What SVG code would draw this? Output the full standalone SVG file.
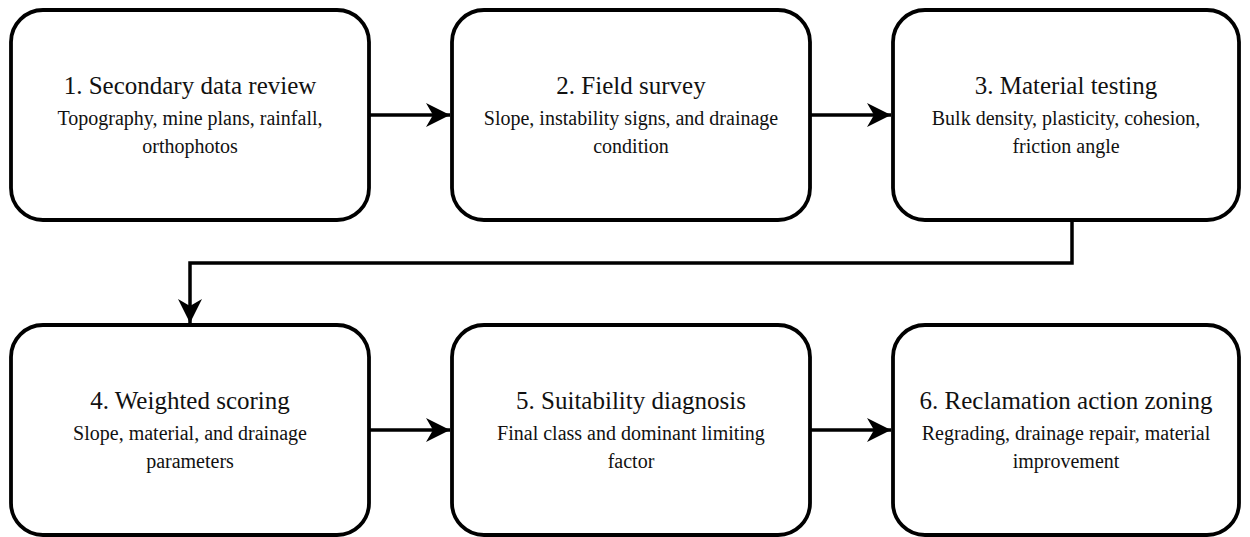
<svg xmlns="http://www.w3.org/2000/svg" width="1250" height="537" viewBox="0 0 1250 537">
<style>
.box{fill:#fff;stroke:#000;stroke-width:3.8}
.c{fill:none;stroke:#000;stroke-width:3.5}
</style>
<defs>
<marker id="ah" markerUnits="userSpaceOnUse" markerWidth="26" markerHeight="26" viewBox="0 0 26 26" refX="24" refY="13" orient="auto">
<path d="M0,1 L24,13 L0,25 L7,13 Z" fill="#000"/>
</marker>
</defs>
<rect width="1250" height="537" fill="#fff"/>
<g id="connectors">
<path class="c" d="M369,115 H450" marker-end="url(#ah)"/>
<path class="c" d="M810,115 H891" marker-end="url(#ah)"/>
<path class="c" d="M1072,220 V263 H190 V323" marker-end="url(#ah)"/>
<path class="c" d="M369,430 H450" marker-end="url(#ah)"/>
<path class="c" d="M810,430 H891" marker-end="url(#ah)"/>
</g>
<g id="n1"><rect class="box" x="11" y="10" width="358" height="210" rx="32"/>
<text font-family="Liberation Serif" fill="#111" text-anchor="middle" x="190" y="94" font-size="25">1. Secondary data review</text>
<text font-family="Liberation Serif" fill="#111" text-anchor="middle" x="190" y="125" font-size="20">Topography, mine plans, rainfall,</text>
<text font-family="Liberation Serif" fill="#111" text-anchor="middle" x="190" y="153" font-size="20">orthophotos</text></g>
<g id="n2"><rect class="box" x="452" y="10" width="358" height="210" rx="32"/>
<text font-family="Liberation Serif" fill="#111" text-anchor="middle" x="631" y="94" font-size="25">2. Field survey</text>
<text font-family="Liberation Serif" fill="#111" text-anchor="middle" x="631" y="125" font-size="20">Slope, instability signs, and drainage</text>
<text font-family="Liberation Serif" fill="#111" text-anchor="middle" x="631" y="153" font-size="20">condition</text></g>
<g id="n3"><rect class="box" x="893" y="10" width="346" height="210" rx="32"/>
<text font-family="Liberation Serif" fill="#111" text-anchor="middle" x="1066" y="94" font-size="25">3. Material testing</text>
<text font-family="Liberation Serif" fill="#111" text-anchor="middle" x="1066" y="125" font-size="20">Bulk density, plasticity, cohesion,</text>
<text font-family="Liberation Serif" fill="#111" text-anchor="middle" x="1066" y="153" font-size="20">friction angle</text></g>
<g id="n4"><rect class="box" x="11" y="325" width="358" height="210" rx="32"/>
<text font-family="Liberation Serif" fill="#111" text-anchor="middle" x="190" y="409" font-size="25">4. Weighted scoring</text>
<text font-family="Liberation Serif" fill="#111" text-anchor="middle" x="190" y="440" font-size="20">Slope, material, and drainage</text>
<text font-family="Liberation Serif" fill="#111" text-anchor="middle" x="190" y="468" font-size="20">parameters</text></g>
<g id="n5"><rect class="box" x="452" y="325" width="358" height="210" rx="32"/>
<text font-family="Liberation Serif" fill="#111" text-anchor="middle" x="631" y="409" font-size="25">5. Suitability diagnosis</text>
<text font-family="Liberation Serif" fill="#111" text-anchor="middle" x="631" y="440" font-size="20">Final class and dominant limiting</text>
<text font-family="Liberation Serif" fill="#111" text-anchor="middle" x="631" y="468" font-size="20">factor</text></g>
<g id="n6"><rect class="box" x="893" y="325" width="346" height="210" rx="32"/>
<text font-family="Liberation Serif" fill="#111" text-anchor="middle" x="1066" y="409" font-size="25">6. Reclamation action zoning</text>
<text font-family="Liberation Serif" fill="#111" text-anchor="middle" x="1066" y="440" font-size="20">Regrading, drainage repair, material</text>
<text font-family="Liberation Serif" fill="#111" text-anchor="middle" x="1066" y="468" font-size="20">improvement</text></g>
</svg>
